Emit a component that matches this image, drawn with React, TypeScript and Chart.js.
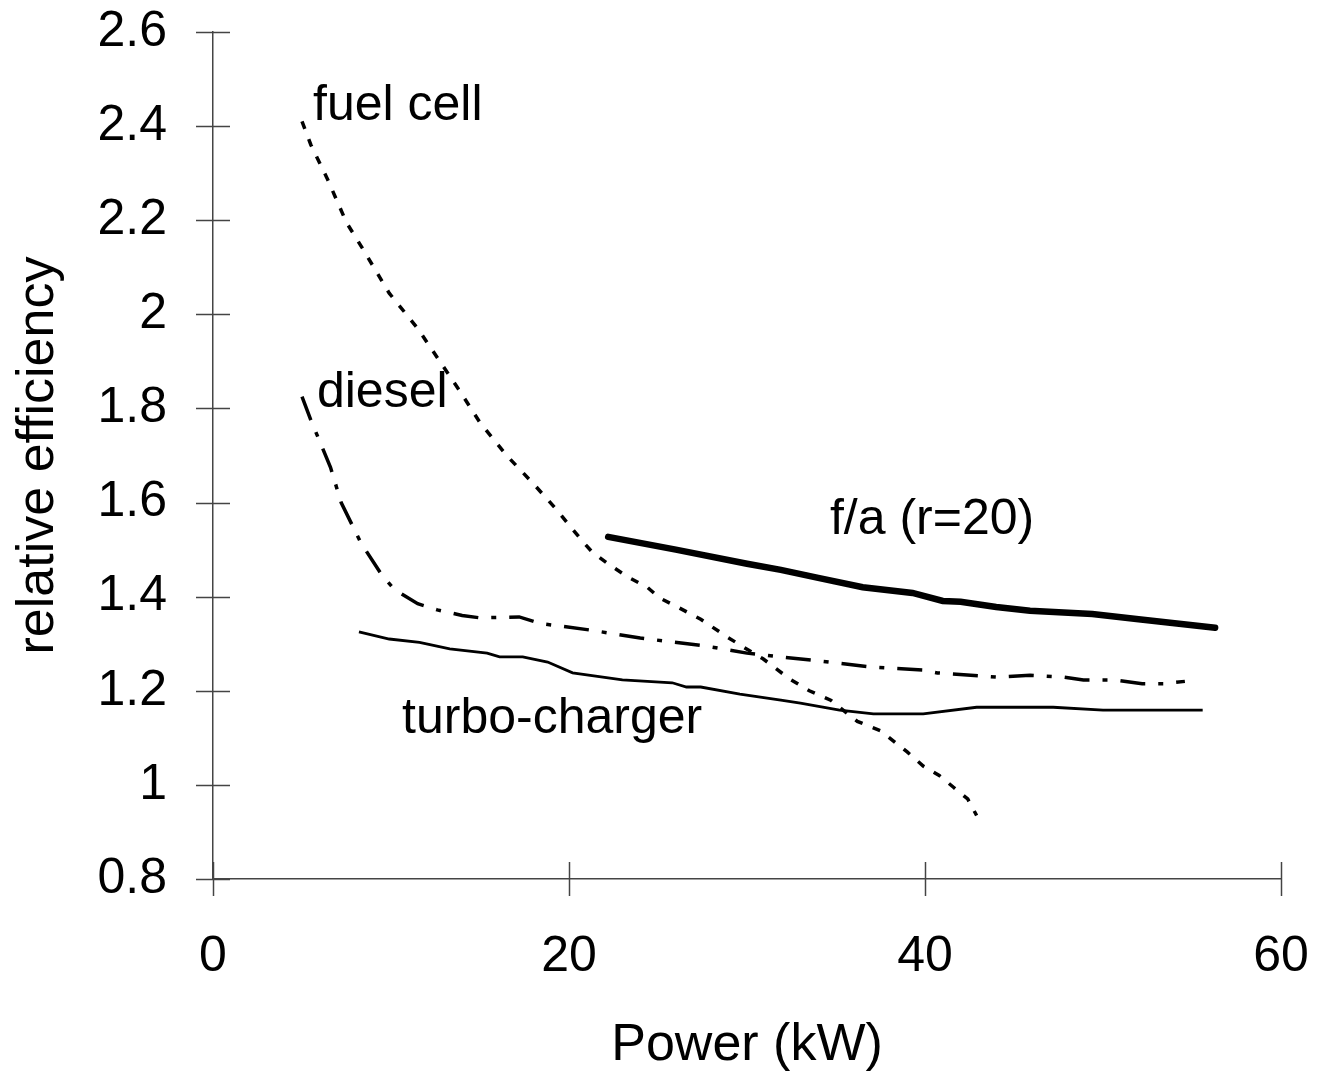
import React, { useEffect, useRef } from "react";
import { Chart, registerables } from "chart.js";

Chart.register(...registerables);

// ---- data ----
const fuelCellX = [5.0, 5.5, 6.4, 7.5, 8.4, 9.9, 11.5, 13.9, 15.0, 16.5, 18.0, 19.3, 20.1, 20.8, 21.3, 22.3, 23.3, 24.4, 25.1, 26.2, 27.4, 28.9, 29.8, 30.9, 32.4, 33.5, 34.7, 36.2, 37.5, 39.0, 39.9, 40.8, 41.6, 42.4, 42.9];
const fuelCellY = [2.41, 2.36, 2.29, 2.195, 2.14, 2.045, 1.97, 1.835, 1.77, 1.70, 1.64, 1.585, 1.548, 1.516, 1.495, 1.467, 1.442, 1.42, 1.397, 1.376, 1.352, 1.314, 1.293, 1.268, 1.225, 1.20, 1.18, 1.135, 1.115, 1.07, 1.04, 1.02, 0.995, 0.97, 0.935];

const dieselX = [5.0, 5.5, 6.6, 7.2, 8.3, 9.5, 10.2, 11.5, 12.6, 14.0, 15.0, 17.2, 18.4, 21.2, 24.0, 27.7, 30.0, 31.9, 33.7, 37.1, 39.9, 40.7, 44.0, 45.9, 47.8, 48.9, 50.6, 52.2, 53.4, 54.6];
const dieselY = [1.825, 1.775, 1.675, 1.60, 1.515, 1.445, 1.415, 1.385, 1.372, 1.36, 1.355, 1.357, 1.343, 1.329, 1.312, 1.295, 1.28, 1.272, 1.265, 1.25, 1.244, 1.238, 1.229, 1.233, 1.229, 1.223, 1.223, 1.215, 1.215, 1.22];

const turboX = [8.2, 9.9, 11.6, 13.3, 15.4, 16.1, 17.4, 18.8, 20.2, 23.0, 25.8, 26.6, 27.4, 29.6, 31.9, 33.0, 35.2, 37.1, 39.9, 42.9, 47.2, 50.0, 55.6];
const turboY = [1.325, 1.31, 1.303, 1.289, 1.28, 1.272, 1.272, 1.261, 1.238, 1.223, 1.217, 1.208, 1.208, 1.193, 1.18, 1.174, 1.159, 1.151, 1.151, 1.165, 1.165, 1.159, 1.159];

const faX = [22.2, 26.0, 30.0, 31.9, 34.0, 36.5, 39.3, 41.0, 42.0, 44.0, 45.9, 49.4, 52.0, 56.3];
const faY = [1.527, 1.50, 1.47, 1.457, 1.44, 1.42, 1.408, 1.391, 1.389, 1.378, 1.37, 1.363, 1.352, 1.334];

const labelTexts = ["fuel cell", "diesel", "f/a (r=20)", "turbo-charger"];
const labelX = [5.62, 5.84, 34.66, 10.62];
const labelY = [2.413, 1.804, 1.534, 1.11];

const xMin = 0, xMax = 60, xStep = 20;
const yMin = 0.8, yMax = 2.6, yStep = 0.2;

const FONT = "'Liberation Sans', Arial, Helvetica, sans-serif";
const AXIS_COLOR = "#444";

const toPoints = (xs: number[], ys: number[]) => xs.map((x, i) => ({ x, y: ys[i] }));

const overlayPlugin = {
  id: "overlay",
  afterDraw(chart: any) {
    const ctx = chart.ctx as CanvasRenderingContext2D;
    const xs = chart.scales.x;
    const ys = chart.scales.y;
    const area = chart.chartArea;
    ctx.save();
    ctx.strokeStyle = AXIS_COLOR;
    ctx.lineWidth = 1.5;
    ys.ticks.forEach((_: any, i: number) => {
      const y = Math.round(ys.getPixelForTick(i)) + 0.5;
      ctx.beginPath();
      ctx.moveTo(area.left - 17, y);
      ctx.lineTo(area.left + 17, y);
      ctx.stroke();
    });
    xs.ticks.forEach((_: any, i: number) => {
      const x = Math.round(xs.getPixelForTick(i)) + 0.5;
      ctx.beginPath();
      ctx.moveTo(x, area.bottom - 17);
      ctx.lineTo(x, area.bottom + 17);
      ctx.stroke();
    });
    ctx.fillStyle = "#000";
    ctx.font = `50px ${FONT}`;
    ctx.textAlign = "left";
    ctx.textBaseline = "alphabetic";
    labelTexts.forEach((t, i) => {
      ctx.fillText(t, xs.getPixelForValue(labelX[i]), ys.getPixelForValue(labelY[i]));
    });
    ctx.restore();
  },
};

export default function App() {
  const ref = useRef<HTMLCanvasElement | null>(null);
  useEffect(() => {
    if (!ref.current) return;
    const chart = new Chart(ref.current, {
      type: "line",
      data: {
        datasets: [
          {
            label: "fuel cell",
            data: toPoints(fuelCellX, fuelCellY),
            borderColor: "#000",
            borderWidth: 3.5,
            borderDash: [8, 11],
            pointRadius: 0,
            fill: false,
            tension: 0,
          },
          {
            label: "diesel",
            data: toPoints(dieselX, dieselY),
            borderColor: "#000",
            borderWidth: 3.5,
            borderDash: [25, 13, 5, 13],
            pointRadius: 0,
            fill: false,
            tension: 0,
          },
          {
            label: "turbo-charger",
            data: toPoints(turboX, turboY),
            borderColor: "#000",
            borderWidth: 2.8,
            pointRadius: 0,
            fill: false,
            tension: 0,
          },
          {
            label: "f/a (r=20)",
            data: toPoints(faX, faY),
            borderColor: "#000",
            borderWidth: 6.5,
            borderCapStyle: "round",
            pointRadius: 0,
            fill: false,
            tension: 0,
          },
        ],
      },
      options: {
        animation: false,
        responsive: false,
        devicePixelRatio: 1,
        layout: { padding: { left: 0, top: 32, right: 36, bottom: 0 } },
        plugins: { legend: { display: false }, tooltip: { enabled: false } },
        scales: {
          x: {
            type: "linear",
            min: xMin,
            max: xMax,
            afterFit: (s: any) => {
              s.height = 197;
              s.paddingLeft = 0;
              s.paddingRight = 0;
            },
            ticks: {
              stepSize: xStep,
              color: "#000",
              font: { family: FONT, size: 50 },
              padding: 48,
              maxRotation: 0,
              autoSkip: false,
            },
            grid: { display: false, drawTicks: false },
            border: { display: true, color: AXIS_COLOR, width: 1.5 },
            title: {
              display: true,
              text: "Power (kW)",
              color: "#000",
              font: { family: FONT, size: 52, lineHeight: 1 },
              padding: { top: 0, bottom: 4 },
            },
          },
          y: {
            type: "linear",
            min: yMin,
            max: yMax,
            afterFit: (s: any) => {
              s.width = 213;
              s.paddingTop = 0;
              s.paddingBottom = 0;
            },
            ticks: {
              stepSize: yStep,
              color: "#000",
              font: { family: FONT, size: 50 },
              padding: 46,
              autoSkip: false,
              callback: (v: any) => String(parseFloat(Number(v).toFixed(1))),
            },
            grid: { display: false, drawTicks: false },
            border: { display: true, color: AXIS_COLOR, width: 1.5 },
            title: {
              display: true,
              text: "relative efficiency",
              color: "#000",
              font: { family: FONT, size: 52, lineHeight: 1 },
              padding: { top: 13, bottom: 0 },
            },
          },
        },
      },
      plugins: [overlayPlugin],
    } as any);
    return () => chart.destroy();
  }, []);
  return (
    <div style={{ position: "fixed", left: 0, top: 0, width: 1317, height: 1076, background: "#fff" }}>
      <canvas ref={ref} width={1317} height={1076} style={{ display: "block" }} />
    </div>
  );
}
